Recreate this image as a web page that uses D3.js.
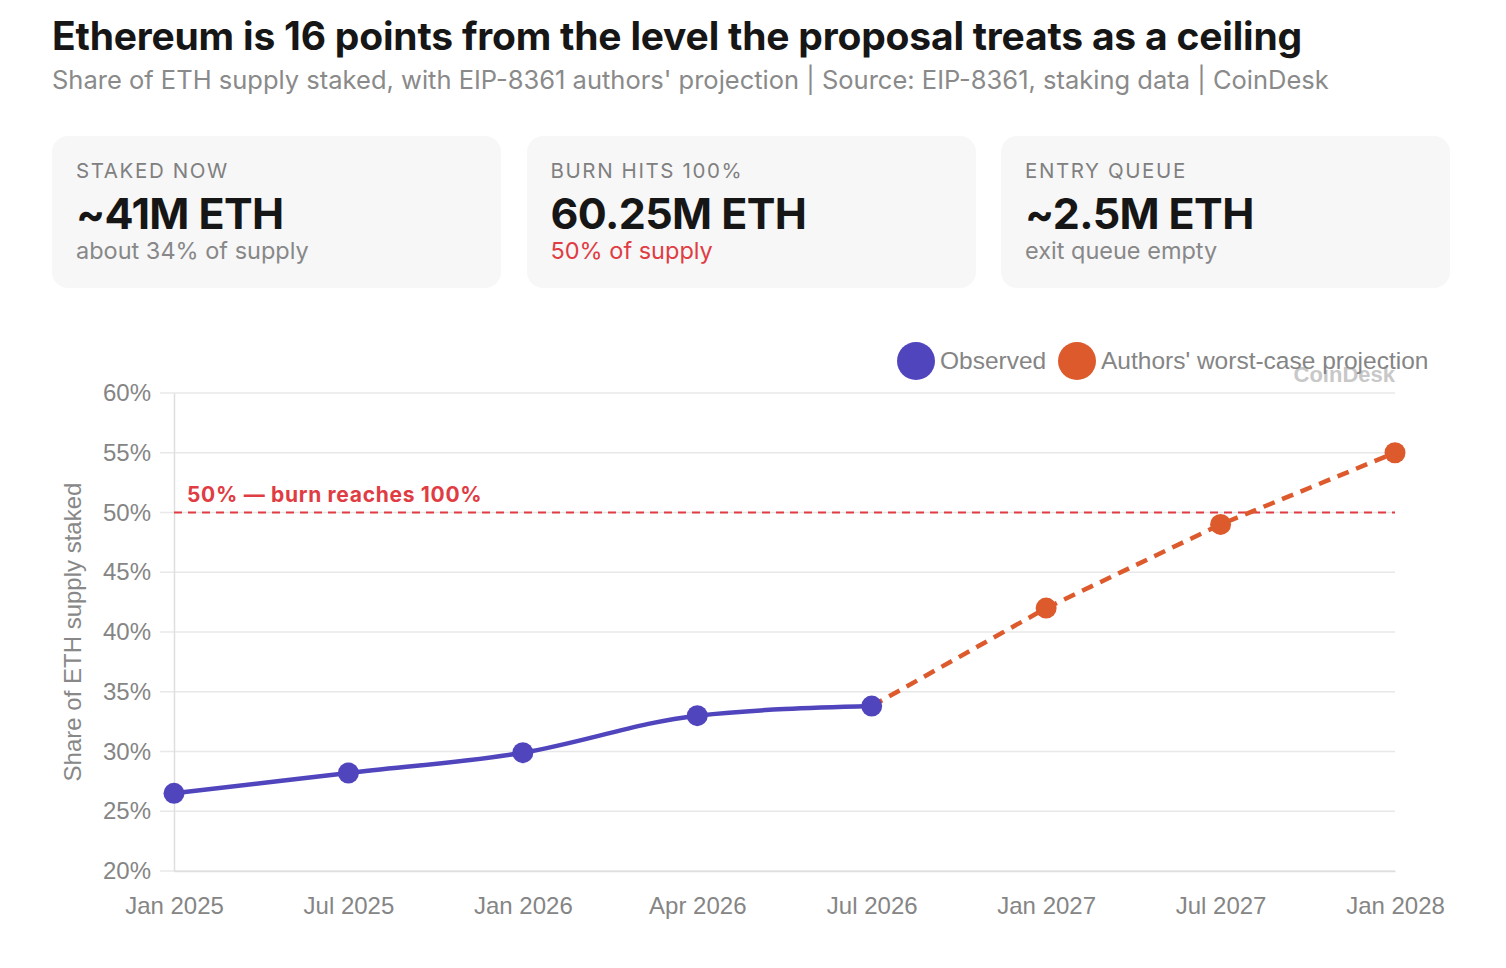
<!DOCTYPE html>
<html>
<head>
<meta charset="utf-8">
<script src="https://cdnjs.cloudflare.com/ajax/libs/d3/7.8.5/d3.min.js"></script>
<style>
  body { margin: 0; background: #fff; font-family: Inter, "Liberation Sans", sans-serif; }
  #wrap { position: relative; width: 1506px; height: 968px; }
  h1 { position: absolute; left: 52px; top: 12px; margin: 0; font-size: 39px; font-weight: 700; color: #161616; letter-spacing: -0.2px; white-space: nowrap; }
  .sub { position: absolute; left: 52px; top: 64px; font-size: 25.5px; color: #8a8a8a; white-space: nowrap; }
  .card { position: absolute; top: 136px; width: 449px; height: 152px; background: #f7f7f8; border-radius: 16px; }
  .lab, .val, .note { position: absolute; left: 24px; white-space: nowrap; }
  .lab { top: 22px; font-size: 20.5px; letter-spacing: 1.6px; color: #808080; }
  .val { top: 52px; font-size: 43px; font-weight: 700; color: #161616; letter-spacing: -0.6px; line-height: 50px; }
  .note { top: 100px; font-size: 23.5px; color: #888; }
  .note.red { color: #e03c43; }
  svg { position: absolute; left: 0; top: 0; }
</style>
</head>
<body>
<div id="wrap">
  <h1>Ethereum is 16 points from the level the proposal treats as a ceiling</h1>
  <div class="sub">Share of ETH supply staked, with EIP-8361 authors' projection | Source: EIP-8361, staking data | CoinDesk</div>
  <div id="cards"></div>
  <div id="chart"></div>
</div>
<script>
(function() {
  'use strict';

  var periods = ['Jan 2025', 'Jul 2025', 'Jan 2026', 'Apr 2026', 'Jul 2026', 'Jan 2027', 'Jul 2027', 'Jan 2028'];
  var observedPeriods = ['Jan 2025', 'Jul 2025', 'Jan 2026', 'Apr 2026', 'Jul 2026'];
  var observedValues = [26.5, 28.2, 29.9, 33.0, 33.8];
  var projectionPeriods = ['Jul 2026', 'Jan 2027', 'Jul 2027', 'Jan 2028'];
  var projectionValues = [33.8, 42.0, 49.0, 55.0];
  var yTicks = [20, 25, 30, 35, 40, 45, 50, 55, 60];
  var ceiling = 50;

  var cardLabels = ['STAKED NOW', 'BURN HITS 100%', 'ENTRY QUEUE'];
  var cardValues = ['~41M ETH', '60.25M ETH', '~2.5M ETH'];
  var cardNotes = ['about 34% of supply', '50% of supply', 'exit queue empty'];

  var blue = '#5045bd',
    orange = '#dc5a2c',
    red = '#e03c43';

  // stat cards
  d3.select('#cards').selectAll('div.card')
    .data(cardLabels)
    .enter()
    .append('div')
    .attr('class', 'card')
    .style('left', function(d, i) { return (52 + i * 474.5) + 'px'; })
    .each(function(d, i) {
      var c = d3.select(this);
      c.append('div').attr('class', 'lab').text(d);
      c.append('div').attr('class', 'val').text(cardValues[i]);
      c.append('div').attr('class', i === 1 ? 'note red' : 'note').text(cardNotes[i]);
    });

  var svgW = 1506, svgH = 968;
  var left = 174, right = 1395, top = 393, bottom = 871;
  var axisFont = '"Liberation Sans", Arial, sans-serif';

  var svg = d3.select('#chart')
    .append('svg')
    .attr('width', svgW)
    .attr('height', svgH)
    .style('font-family', axisFont);

  var x = d3.scalePoint().domain(periods).range([left, right]);
  var y = d3.scaleLinear().domain([20, 60]).range([bottom, top]);

  // gridlines
  svg.append('g')
    .selectAll('line')
    .data(yTicks)
    .enter()
    .append('line')
    .attr('x1', left - 14)
    .attr('x2', right)
    .attr('y1', function(d) { return y(d); })
    .attr('y2', function(d) { return y(d); })
    .attr('stroke', '#e8e8e8')
    .attr('stroke-width', 1.5);

  // axes
  var yAxis = svg.append('g')
    .attr('transform', 'translate(' + left + ',0)')
    .call(d3.axisLeft(y).tickValues(yTicks).tickSize(0).tickPadding(23).tickFormat(function(d) { return d + '%'; }));
  yAxis.select('.domain').attr('stroke', '#dedede').attr('stroke-width', 1.5);
  yAxis.selectAll('text').attr('font-size', 24).attr('fill', '#858585').attr('font-family', axisFont);

  var xAxis = svg.append('g')
    .attr('transform', 'translate(0,' + bottom + ')')
    .call(d3.axisBottom(x).tickSize(0).tickPadding(26));
  xAxis.select('.domain').attr('stroke', '#dedede').attr('stroke-width', 1.5);
  xAxis.selectAll('text').attr('font-size', 24).attr('fill', '#858585').attr('font-family', axisFont);

  // y axis title
  svg.append('text')
    .attr('transform', 'translate(81,' + ((top + bottom) / 2) + ') rotate(-90)')
    .attr('text-anchor', 'middle')
    .attr('font-size', 24)
    .attr('fill', '#888')
    .text('Share of ETH supply staked');

  // ceiling line
  svg.append('line')
    .attr('x1', left)
    .attr('x2', right)
    .attr('y1', y(ceiling))
    .attr('y2', y(ceiling))
    .attr('stroke', red)
    .attr('stroke-width', 2)
    .attr('stroke-dasharray', '8,6');

  svg.append('text')
    .attr('x', 187)
    .attr('y', y(ceiling) - 11)
    .attr('font-size', 21)
    .attr('font-weight', 700)
    .attr('letter-spacing', 0.7)
    .attr('fill', red)
    .attr('font-family', 'Inter, sans-serif')
    .text('50% \u2014 burn reaches 100%');

  // watermark
  svg.append('text')
    .attr('x', 1395)
    .attr('y', 382)
    .attr('text-anchor', 'end')
    .attr('font-size', 22)
    .attr('font-weight', 700)
    .attr('fill', '#c8c8c8')
    .text('CoinDesk');

  var observed = observedPeriods.map(function(p, i) { return { p: p, v: observedValues[i] }; });
  var projection = projectionPeriods.map(function(p, i) { return { p: p, v: projectionValues[i] }; });

  var smooth = d3.line()
    .x(function(d) { return x(d.p); })
    .y(function(d) { return y(d.v); })
    .curve(d3.curveMonotoneX);
  var straight = d3.line()
    .x(function(d) { return x(d.p); })
    .y(function(d) { return y(d.v); });

  svg.append('path')
    .datum(projection)
    .attr('d', straight)
    .attr('fill', 'none')
    .attr('stroke', orange)
    .attr('stroke-width', 4.5)
    .attr('stroke-dasharray', '12,8');

  svg.append('path')
    .datum(observed)
    .attr('d', smooth)
    .attr('fill', 'none')
    .attr('stroke', blue)
    .attr('stroke-width', 4.5);

  svg.append('g')
    .selectAll('circle')
    .data(projection.slice(1))
    .enter()
    .append('circle')
    .attr('cx', function(d) { return x(d.p); })
    .attr('cy', function(d) { return y(d.v); })
    .attr('r', 10.5)
    .attr('fill', orange);

  svg.append('g')
    .selectAll('circle')
    .data(observed)
    .enter()
    .append('circle')
    .attr('cx', function(d) { return x(d.p); })
    .attr('cy', function(d) { return y(d.v); })
    .attr('r', 10.5)
    .attr('fill', blue);

  // legend (drawn last so it sits over the watermark)
  var legend = [
    { name: 'Observed', color: blue, cx: 916 },
    { name: "Authors' worst-case projection", color: orange, cx: 1077 }
  ];
  var lg = svg.append('g').selectAll('g')
    .data(legend)
    .enter()
    .append('g');
  lg.append('circle')
    .attr('cx', function(d) { return d.cx; })
    .attr('cy', 361)
    .attr('r', 19)
    .attr('fill', function(d) { return d.color; });
  lg.append('text')
    .attr('x', function(d) { return d.cx + 24; })
    .attr('y', 369)
    .attr('font-size', 24.5)
    .attr('fill', '#858585')
    .text(function(d) { return d.name; });

}());
</script>
</body>
</html>
